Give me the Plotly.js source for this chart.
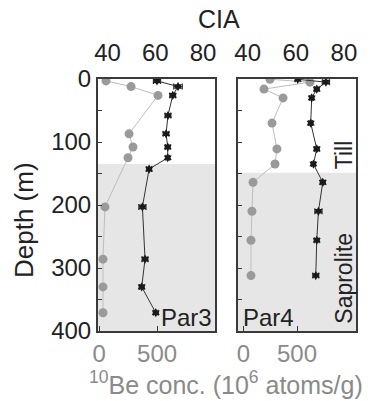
<!DOCTYPE html>
<html><head><meta charset="utf-8">
<script src="https://cdn.plot.ly/plotly-3.0.1.min.js"></script>
<style>html,body{margin:0;padding:0;background:#fff}#chart{width:370px;height:401px}</style>
</head><body><div id="chart"></div>
<script>
// Par3 (left panel)
const par3BeDepth  = [3, 12, 26, 87, 108, 125, 203, 286, 330, 371];
const par3Be       = [59, 275, 508, 258, 292, 249, 50, 33, 33, 33];
const par3CiaDepth = [3, 12, 26, 58, 87, 108, 125, 143, 203, 286, 330, 371];
const par3Cia      = [60.7, 69.5, 67.3, 65.3, 64.5, 65.2, 65.2, 57.4, 54.6, 55.7, 54.3, 60.2];
const par3CiaErr   = [1.5, 1.8, 1.2, 1.2, 1.2, 1.0, 0.8, 1.0, 1.5, 1.2, 1.0, 1.0];
const par3SaproliteTop = 135;
// Par4 (right panel)
const par4BeDepth  = [0.5, 5, 16, 30, 70, 111, 135, 164, 210, 256, 312];
const par4Be       = [248, 621, 192, 370, 267, 313, 295, 90, 80, 71, 71];
const par4CiaDepth = [0.5, 5, 16, 30, 70, 111, 135, 164, 210, 256, 312];
const par4Cia      = [60.8, 72.5, 68.7, 66.6, 66.2, 68.7, 67.3, 71.2, 69.4, 68.7, 68.3];
const par4CiaErr   = [1.0, 1.5, 1.0, 0.8, 0.8, 1.0, 0.8, 1.0, 1.5, 1.0, 1.2];
const par4SaproliteTop = 149;
// axes ticks
const depthTicks = [0, 100, 200, 300, 400];
const ciaTicks = [40, 60, 80];
const beTicks = [0, 500];

const FONT = 'Liberation Sans, Arial, sans-serif';
const beLine = {color: '#bdbdbd', width: 1};
const beMarker = {color: '#9a9a9a', size: 9, symbol: 'circle'};
const ciaLine = {color: '#333', width: 1};
const ciaMarker = {color: '#1a1a1a', size: 7, symbol: 'hexagram'};
function err(a){return {type: 'data', array: a, color: '#333', thickness: 1.2, width: 3};}

const traces = [
  {x: par3Be, y: par3BeDepth, xaxis: 'x', yaxis: 'y', mode: 'lines+markers', line: beLine, marker: beMarker},
  {x: par3Cia, y: par3CiaDepth, xaxis: 'x2', yaxis: 'y', mode: 'lines+markers', line: ciaLine, marker: ciaMarker, error_x: err(par3CiaErr)},
  {x: par4Be, y: par4BeDepth, xaxis: 'x3', yaxis: 'y2', mode: 'lines+markers', line: beLine, marker: beMarker},
  {x: par4Cia, y: par4CiaDepth, xaxis: 'x4', yaxis: 'y2', mode: 'lines+markers', line: ciaLine, marker: ciaMarker, error_x: err(par4CiaErr)}
];

const frame = {showline: true, linecolor: '#3a3a3a', linewidth: 2, mirror: true, zeroline: false, showgrid: false};
const yDom = [1 - 331/401, 1 - 79/401];
const minorY = {tickvals: [50, 150, 250, 350], ticks: 'inside', ticklen: 4, tickcolor: '#3a3a3a', showgrid: false};
const layout = {
  width: 370, height: 401, autosize: false,
  margin: {l: 0, r: 0, t: 0, b: 0},
  paper_bgcolor: '#fff', plot_bgcolor: '#fff',
  showlegend: false,
  font: {family: FONT, size: 24, color: '#222'},
  xaxis: Object.assign({}, frame, {domain: [98/370, 215/370], range: [-10, 1000], anchor: 'y', side: 'bottom',
    tickvals: beTicks, ticks: 'inside', ticklen: 5, tickcolor: '#3a3a3a', tickfont: {family: FONT, size: 24, color: '#8a8a8a'}}),
  xaxis2: {overlaying: 'x', side: 'top', anchor: 'y', range: [36, 85], tickvals: ciaTicks, ticks: '', showline: false, showgrid: false, zeroline: false,
    ticklabelstandoff: 12, tickfont: {family: FONT, size: 24, color: '#222'}},
  xaxis3: Object.assign({}, frame, {domain: [238/370, 356/370], range: [-50, 1050], anchor: 'y2', side: 'bottom',
    tickvals: beTicks, ticks: 'inside', ticklen: 5, tickcolor: '#3a3a3a', tickfont: {family: FONT, size: 24, color: '#8a8a8a'}}),
  xaxis4: {overlaying: 'x3', side: 'top', anchor: 'y2', range: [36, 85], tickvals: ciaTicks, ticks: '', showline: false, showgrid: false, zeroline: false,
    ticklabelstandoff: 12, tickfont: {family: FONT, size: 24, color: '#222'}},
  yaxis: Object.assign({}, frame, {domain: yDom, range: [400, 0], anchor: 'x', tickvals: depthTicks,
    ticks: 'inside', ticklen: 4, tickcolor: '#3a3a3a', minor: minorY, tickfont: {family: FONT, size: 24, color: '#222'}}),
  yaxis2: Object.assign({}, frame, {domain: yDom, range: [400, 0], anchor: 'x3', tickvals: depthTicks, showticklabels: false,
    ticks: 'inside', ticklen: 4, tickcolor: '#3a3a3a', minor: minorY}),
  shapes: [
    {type: 'rect', layer: 'below', xref: 'x domain', yref: 'y', x0: 0, x1: 1, y0: par3SaproliteTop, y1: 400, fillcolor: '#e6e6e6', line: {width: 0}},
    {type: 'rect', layer: 'below', xref: 'x3 domain', yref: 'y2', x0: 0, x1: 1, y0: par4SaproliteTop, y1: 400, fillcolor: '#e6e6e6', line: {width: 0}}
  ],
  annotations: [
    {text: 'CIA', xref: 'paper', yref: 'paper', x: 219/370, y: 1 - 19/401, xanchor: 'center', yanchor: 'middle', showarrow: false, font: {family: FONT, size: 25, color: '#222'}},
    {text: 'Depth (m)', xref: 'paper', yref: 'paper', x: 24/370, y: 1 - 220/401, xanchor: 'center', yanchor: 'middle', textangle: -90, showarrow: false, font: {family: FONT, size: 26, color: '#222'}},
    {text: '<sup>10</sup>Be conc. (10<sup>6</sup> atoms/g)', xref: 'paper', yref: 'paper', x: 226/370, y: 1 - 383/401, xanchor: 'center', yanchor: 'middle', showarrow: false, font: {family: FONT, size: 25, color: '#8a8a8a'}},
    {text: 'Par3', xref: 'x domain', yref: 'y', x: 1, y: 378, xanchor: 'right', yanchor: 'middle', xshift: -1, showarrow: false, font: {family: FONT, size: 24, color: '#222'}},
    {text: 'Par4', xref: 'x3 domain', yref: 'y2', x: 0, y: 378, xanchor: 'left', yanchor: 'middle', xshift: 3, showarrow: false, font: {family: FONT, size: 24, color: '#222'}},
    {text: 'Till', xref: 'x3 domain', yref: 'y2', x: (344-238)/118, y: 121, xanchor: 'center', yanchor: 'middle', textangle: -90, showarrow: false, font: {family: FONT, size: 23, color: '#222'}},
    {text: 'Saprolite', xref: 'x3 domain', yref: 'y2', x: (344-238)/118, y: 317, xanchor: 'center', yanchor: 'middle', textangle: -90, showarrow: false, font: {family: FONT, size: 23, color: '#222'}}
  ]
};
Plotly.newPlot('chart', traces, layout, {staticPlot: true, displayModeBar: false});
</script></body></html>
